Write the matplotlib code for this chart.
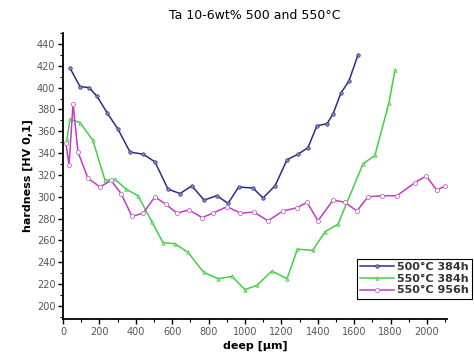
import matplotlib
matplotlib.use('Agg')
import matplotlib.pyplot as plt
from matplotlib.ticker import MultipleLocator

# 500°C 384h
depth_500_384 = [38, 93, 143, 187, 242, 302, 368, 440, 505, 577, 643, 708, 775, 845, 907,
                 965, 1044, 1099, 1165, 1231, 1291, 1346, 1395, 1451, 1484, 1527, 1571, 1621]
hard_500_384 = [418, 401, 400, 392, 377, 362, 341, 339, 332, 307, 303, 310, 297, 301, 294,
                309, 308, 299, 310, 334, 339, 345, 365, 367, 376, 395, 406, 430]

# 550°C 384h
depth_550_384 = [22, 38, 93, 163, 231, 286, 346, 412, 489, 549, 615, 687, 772, 852, 929,
                 1000, 1066, 1148, 1231, 1288, 1372, 1440, 1511, 1648, 1714, 1791, 1824]
hard_550_384 = [353, 371, 368, 352, 315, 316, 307, 301, 277, 258, 257, 249, 231, 225, 227,
                215, 219, 232, 225, 252, 251, 268, 275, 330, 338, 386, 416]

# 550°C 956h
depth_550_956 = [16, 33, 55, 82, 137, 203, 264, 319, 379, 440, 505, 566, 626, 692, 764,
                 824, 901, 975, 1050, 1126, 1209, 1286, 1341, 1401, 1484, 1549, 1615, 1676,
                 1753, 1835, 1934, 1995, 2055, 2099]
hard_550_956 = [349, 329, 385, 341, 317, 309, 315, 303, 282, 285, 300, 293, 285, 288, 281,
                285, 291, 285, 286, 278, 287, 290, 295, 278, 297, 295, 287, 300,
                301, 301, 313, 319, 306, 310]

fig = plt.figure(figsize=(4.74, 3.63), dpi=100)
ax = fig.add_axes([0.133, 0.121, 0.81, 0.788])

ax.plot(depth_500_384, hard_500_384, color='#2e2e8a', lw=1.1, marker='o', ms=2.5,
        mfc='#8a8ac0', mec='#2e2e8a', mew=0.5, label='500°C 384h')
ax.plot(depth_550_384, hard_550_384, color='#44d044', lw=1.1, marker='^', ms=2.5,
        mfc='#a0e8a0', mec='#44d044', mew=0.5, label='550°C 384h')
ax.plot(depth_550_956, hard_550_956, color='#c838c8', lw=1.1, marker='o', ms=3,
        mfc='white', mec='#c070c0', mew=0.6, label='550°C 956h')

ax.set_xlim(0, 2110)
ax.set_ylim(188, 450)
ax.xaxis.set_major_locator(MultipleLocator(200))
ax.xaxis.set_minor_locator(MultipleLocator(100))
ax.yaxis.set_major_locator(MultipleLocator(20))
ax.yaxis.set_minor_locator(MultipleLocator(10))
ax.tick_params(which='major', direction='out', length=3.5, width=1, labelsize=7,
               labelcolor='#555555', pad=2)
ax.tick_params(which='minor', direction='out', length=2, width=0.8)
for s in ['top', 'right']:
    ax.spines[s].set_visible(False)
for s in ['left', 'bottom']:
    ax.spines[s].set_linewidth(1.3)

ax.set_xlabel('deep [µm]', fontsize=8, fontweight='bold', labelpad=3)
ax.set_ylabel('hardness [HV 0,1]', fontsize=8, fontweight='bold', labelpad=3)
ax.set_title('Ta 10-6wt% 500 and 550°C', fontsize=9, pad=10)

leg = ax.legend(loc='upper right', bbox_to_anchor=(0.996, 0.287), bbox_transform=fig.transFigure,
                fontsize=8, frameon=True, fancybox=False, handlelength=3.0,
                handletextpad=0.3, borderpad=0.3, labelspacing=0.15, borderaxespad=0)
leg.get_frame().set_edgecolor('black')
leg.get_frame().set_linewidth(0.8)
leg.get_frame().set_alpha(1)
for t in leg.get_texts():
    t.set_fontweight('bold')
    t.set_color('#333333')

fig.savefig('out.png', dpi=100)
